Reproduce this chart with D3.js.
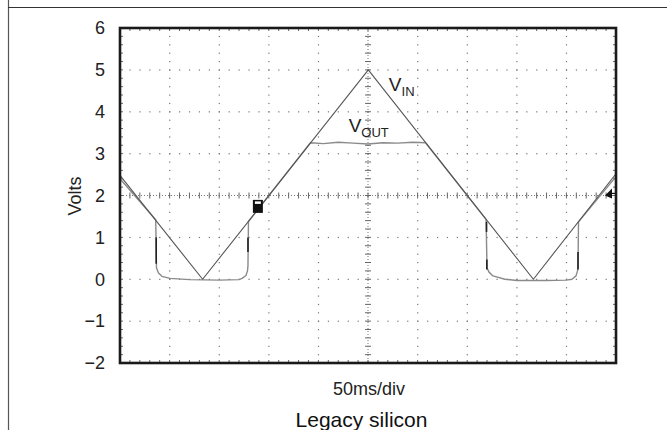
<!DOCTYPE html>
<html>
<head>
<meta charset="utf-8">
<script src="https://cdn.jsdelivr.net/npm/d3@7"></script>
<style>
  html, body { margin: 0; padding: 0; background: #fff; }
  svg { display: block; font-family: "Liberation Sans", Arial, Helvetica, sans-serif; }
</style>
</head>
<body>
<svg id="chart" width="667" height="430"></svg>
<script>
// Oscilloscope capture: 3 Hz triangle input and the clamped output, 50 ms per division.
const timeDomain = [0, 500];            // ms across 10 divisions
const voltDomain = [-2, 6];
const yTicks = [6, 5, 4, 3, 2, 1, 0, -1, -2];
const yTickLabels = ["6", "5", "4", "3", "2", "1", "0", "\u22121", "\u22122"];
const xMajor = [0, 50, 100, 150, 200, 250, 300, 350, 400, 450, 500];

// V_IN trace (ms, volts)
const vinTime  = [0, 83.3, 250.3, 416.7, 500];
const vinVolts = [2.48, 0, 5.0, 0, 2.52];

// V_OUT trace (ms, volts)
const voutTime = [0, 36, 36.8, 38.8, 42.3, 50.4, 70, 100, 120, 123, 127, 128.5, 129, 129.5,
                  192, 205, 220, 235, 250, 265, 280, 295, 308,
                  369, 370, 372, 376, 388, 400, 430, 450, 455.6, 459.7, 461.2, 461.7, 462.2, 500];
const voutVolts = [2.4, 1.42, 0.27, 0.15, 0.07, 0.02, -0.01, -0.02, -0.01, 0.02, 0.09, 0.2, 0.32, 1.38,
                   3.26, 3.24, 3.27, 3.25, 3.23, 3.26, 3.25, 3.27, 3.26,
                   1.43, 0.27, 0.17, 0.08, 0.0, -0.03, -0.03, -0.02, 0.0, 0.08, 0.2, 0.32, 1.37, 2.45];

// Brighter (darker-drawn) stretches on the vertical edges of V_OUT
const edgeTime = [36.5, 129, 369.5, 369.8, 461.7];
const edgeFrom = [1.0, 1.0, 1.37, 0.47, 0.65];
const edgeTo   = [0.37, 0.65, 1.13, 0.23, 0.23];

// Cursor markers
const cursorTime = 139, cursorVolt = 1.74;
const trigTime = 500, trigVolt = 2.05;

const labels = [
  { main: "V", sub: "IN",  t: 271, v: 4.5 },
  { main: "V", sub: "OUT", t: 230.5, v: 3.52 }
];

const svg = d3.select("#chart");
const x = d3.scaleLinear().domain(timeDomain).range([120, 616]);
const y = d3.scaleLinear().domain(voltDomain).range([363, 28]);

// Page frame lines
svg.append("line").attr("x1", 8.5).attr("x2", 8.5).attr("y1", 0).attr("y2", 430)
  .attr("stroke", "#555").attr("stroke-width", 1.2);
svg.append("line").attr("x1", 8).attr("x2", 667).attr("y1", 7.5).attr("y2", 7.5)
  .attr("stroke", "#333").attr("stroke-width", 1.2);

// Graticule
const grid = svg.append("g");
const xMinor = d3.range(0, 500.001, 10);
const yMinor = d3.range(-2, 6.001, 0.2);
const xInner = xMajor.filter(d => d > 0 && d < 500 && d !== 250);
const yInner = yTicks.filter(d => d > -2 && d < 6 && d !== 2);

// dotted major lines: one dot per minor division
xInner.forEach(t => {
  grid.selectAll(null).data(yMinor).join("rect")
    .attr("x", x(t) - 0.5).attr("y", d => y(d) - 0.5)
    .attr("width", 1.2).attr("height", 1.2).attr("fill", "#777");
});
yInner.forEach(v => {
  grid.selectAll(null).data(xMinor).join("rect")
    .attr("x", d => x(d) - 0.5).attr("y", y(v) - 0.5)
    .attr("width", 1.2).attr("height", 1.2).attr("fill", "#777");
});

// centre cross-hair with minor ticks
grid.append("line").attr("x1", x(250)).attr("x2", x(250)).attr("y1", y(6)).attr("y2", y(-2))
  .attr("stroke", "#777").attr("stroke-width", 1).attr("stroke-dasharray", "1,2");
grid.append("line").attr("x1", x(0)).attr("x2", x(500)).attr("y1", y(2)).attr("y2", y(2))
  .attr("stroke", "#777").attr("stroke-width", 1).attr("stroke-dasharray", "1,2");
grid.selectAll(null).data(yMinor).join("line")
  .attr("x1", x(250) - 3).attr("x2", x(250) + 3).attr("y1", d => y(d)).attr("y2", d => y(d))
  .attr("stroke", "#666").attr("stroke-width", 1);
grid.selectAll(null).data(xMinor).join("line")
  .attr("x1", d => x(d)).attr("x2", d => x(d)).attr("y1", y(2) - 3).attr("y2", y(2) + 3)
  .attr("stroke", "#666").attr("stroke-width", 1);

// minor ticks along the frame edges
grid.selectAll(null).data(xMinor).join("line")
  .attr("x1", d => x(d)).attr("x2", d => x(d)).attr("y1", y(6)).attr("y2", y(6) + 3)
  .attr("stroke", "#666");
grid.selectAll(null).data(xMinor).join("line")
  .attr("x1", d => x(d)).attr("x2", d => x(d)).attr("y1", y(-2)).attr("y2", y(-2) - 3)
  .attr("stroke", "#666");
grid.selectAll(null).data(yMinor).join("line")
  .attr("x1", x(0)).attr("x2", x(0) + 3).attr("y1", d => y(d)).attr("y2", d => y(d))
  .attr("stroke", "#666");
grid.selectAll(null).data(yMinor).join("line")
  .attr("x1", x(500)).attr("x2", x(500) - 3).attr("y1", d => y(d)).attr("y2", d => y(d))
  .attr("stroke", "#666");

// Traces
const line = d3.line().x(d => x(d[0])).y(d => y(d[1]));
const vin = vinTime.map((t, i) => [t, vinVolts[i]]);
const vout = voutTime.map((t, i) => [t, voutVolts[i]]);

svg.append("path").datum(vout).attr("d", line)
  .attr("fill", "none").attr("stroke", "#8a8a8a").attr("stroke-width", 1.4)
  .attr("stroke-linejoin", "round");
svg.append("path").datum(vin).attr("d", line)
  .attr("fill", "none").attr("stroke", "#555").attr("stroke-width", 1.1)
  .attr("stroke-linejoin", "round");

svg.selectAll(null).data(edgeTime).join("line")
  .attr("x1", d => x(d)).attr("x2", d => x(d))
  .attr("y1", (d, i) => y(edgeFrom[i])).attr("y2", (d, i) => y(edgeTo[i]))
  .attr("stroke", "#222").attr("stroke-width", 1.6);

// Cursor marker and trigger-level arrow
const cx = x(cursorTime), cy = y(cursorVolt);
svg.append("rect").attr("x", cx - 5).attr("y", cy - 6.5).attr("width", 10).attr("height", 13).attr("fill", "#111");
svg.append("rect").attr("x", cx - 3).attr("y", cy - 5).attr("width", 6).attr("height", 2.5).attr("fill", "#fff");
const tx = x(trigTime), ty = y(trigVolt);
svg.append("path")
  .attr("d", `M${tx - 11},${ty + 2} L${tx - 4},${ty - 5} L${tx - 4},${ty + 5} Z`)
  .attr("fill", "#111");
svg.append("line").attr("x1", tx - 4).attr("x2", tx).attr("y1", ty).attr("y2", ty)
  .attr("stroke", "#111").attr("stroke-width", 1.2);

// Plot frame
svg.append("rect").attr("x", x(0)).attr("y", y(6)).attr("width", x(500) - x(0)).attr("height", y(-2) - y(6))
  .attr("fill", "none").attr("stroke", "#1a1a1a").attr("stroke-width", 2.6);

// Y axis labels
const yAxis = d3.axisLeft(y).tickValues(yTicks).tickSize(0).tickPadding(15)
  .tickFormat(d => yTickLabels[yTicks.indexOf(d)]);
const gy = svg.append("g").attr("transform", `translate(${x(0)},0)`).call(yAxis);
gy.select(".domain").remove();
gy.selectAll("text").attr("font-size", 18).attr("fill", "#222")
  .attr("font-family", "'Liberation Sans', Arial, sans-serif");

svg.append("text").attr("transform", `translate(81,196) rotate(-90)`)
  .attr("text-anchor", "middle").attr("font-size", 18).attr("fill", "#222").text("Volts");

svg.append("text").attr("x", 369).attr("y", 395).attr("text-anchor", "middle")
  .attr("font-size", 18).attr("fill", "#222").text("50ms/div");
svg.append("text").attr("x", 361.5).attr("y", 427).attr("text-anchor", "middle")
  .attr("font-size", 21).attr("fill", "#111").text("Legacy silicon");

// Trace labels
labels.forEach(l => {
  const t = svg.append("text").attr("x", x(l.t)).attr("y", y(l.v)).attr("fill", "#222").attr("font-size", 19);
  t.append("tspan").text(l.main);
  t.append("tspan").attr("dy", 5).attr("font-size", 13).text(l.sub);
});
</script>
</body>
</html>
